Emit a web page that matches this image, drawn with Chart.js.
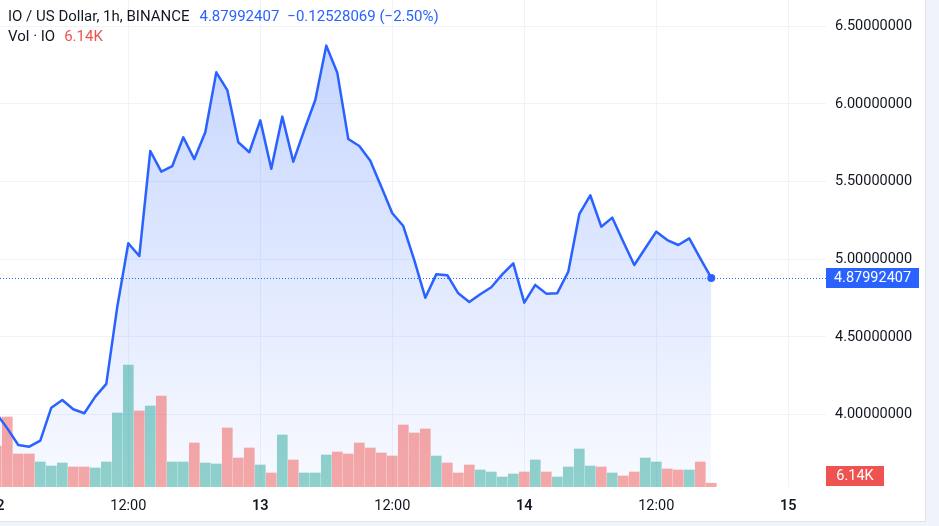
<!DOCTYPE html>
<html><head><meta charset="utf-8">
<script src="https://cdn.jsdelivr.net/npm/chart.js@4/dist/chart.umd.min.js"></script>
<style>html,body{margin:0;padding:0;background:#f0f3fa;}canvas{display:block}</style>
</head><body>
<canvas id="c" width="939" height="526"></canvas>
<script>
// hours since day 12 00:00 (1h candles)
const hours = [0,1,2,3,4,5,6,7,8,9,10,11,12,13,14,15,16,17,18,19,20,21,22,23,24,25,26,27,28,29,30,31,32,33,34,35,36,37,38,39,40,41,42,43,44,45,46,47,48,49,50,51,52,53,54,55,56,57,58,59,60,61,62,63,64,65];
const prices = [4.009,3.912,3.805,3.794,3.833,4.045,4.095,4.035,4.009,4.116,
  4.198,4.695,5.103,5.021,5.697,5.564,5.600,5.785,5.645,5.817,
  6.203,6.089,5.753,5.689,5.894,5.583,5.918,5.628,5.832,6.025,
  6.375,6.201,5.774,5.729,5.634,5.467,5.296,5.214,4.995,4.753,
  4.903,4.898,4.781,4.725,4.775,4.820,4.903,4.974,4.721,4.835,
  4.779,4.782,4.920,5.290,5.412,5.210,5.268,5.113,4.963,5.071,
  5.178,5.124,5.092,5.135,5.006,4.87992407];
// volume in thousands (K)
const volumes = [65.6,112,52.8,52.8,40,33.6,38.4,32,32,30.4,
  40,118.4,195.2,121.6,129.6,145.6,40,40,70.4,38.4,
  36.8,94.4,46.4,62.4,35.2,22.4,83.2,43.2,22.4,22.4,
  51.2,56,52.8,70.4,62.4,54.4,49.6,99.2,86.4,92.8,
  49.6,38.4,22.4,35.2,27.2,24,16,20.8,24,43.2,
  24,16,32,60.8,33.6,32,22.4,17.6,24,46.4,
  40,28.8,27.2,27.2,40,6.14];
const priceTicks = [4.0,4.5,5.0,5.5,6.0,6.5];
const timeTickHours = [0,12,24,36,48,60,72];
const timeTickLabels = ['12','12:00','13','12:00','14','12:00','15'];
const legendTitle = 'IO / US Dollar, 1h, BINANCE';
const lastPriceText = '4.87992407';
const changeText = '\u22120.12528069 (\u22122.50%)';
const volTitle = 'Vol \u00b7 IO';
const volText = '6.14K';

const FONT = "Roboto, 'Open Sans', sans-serif";
const FS = 15, AFS = 14.5;
const BLUE = '#2962FF', RED = '#ef5350', TEXT = '#131722';
const UP = 'rgba(38,166,154,0.5)', DOWN = 'rgba(239,83,80,0.5)';
const barColors = prices.map((p,i)=> i>0 && p>prices[i-1] ? UP : DOWN);

const bgPlugin = {
  id:'bg',
  beforeDraw(ch){
    const c = ch.ctx; c.save();
    c.fillStyle = '#f0f3fa'; c.fillRect(0,0,ch.width,ch.height);
    c.fillStyle = '#ffffff'; c.fillRect(0,0,925,521);
    c.strokeStyle = '#e0e3eb'; c.lineWidth = 1;
    c.beginPath(); c.moveTo(925.5,0); c.lineTo(925.5,521.5); c.lineTo(0,521.5); c.stroke();
    c.restore();
  }
};
const priceLinePlugin = {
  id:'priceLine',
  beforeDatasetsDraw(ch){
    const c = ch.ctx, a = ch.chartArea;
    const y = Math.round(ch.scales.y.getPixelForValue(prices[prices.length-1])) + 0.5;
    c.save(); c.strokeStyle = BLUE; c.lineWidth = 1; c.setLineDash([1,2]);
    c.beginPath(); c.moveTo(a.left,y); c.lineTo(a.right,y); c.stroke(); c.restore();
  }
};
const labelPlugin = {
  id:'labels',
  afterDraw(ch){
    const c = ch.ctx, a = ch.chartArea;
    c.save();
    c.textBaseline = 'middle';
    c.font = FS + 'px ' + FONT;
    let x = 8;
    c.fillStyle = TEXT; c.fillText(legendTitle, x, 17); x += c.measureText(legendTitle).width + 10;
    c.fillStyle = BLUE; c.fillText(lastPriceText, x, 17); x += c.measureText(lastPriceText).width + 8;
    c.fillText(changeText, x, 17);
    c.fillStyle = TEXT; c.fillText(volTitle, 8, 37);
    c.fillStyle = RED; c.fillText(volText, 8 + c.measureText(volTitle).width + 9, 37);
    // price label
    c.font = AFS + 'px ' + FONT;
    const py = ch.scales.y.getPixelForValue(prices[prices.length-1]);
    c.fillStyle = BLUE; c.fillRect(a.right, Math.round(py)-10, 93, 20);
    c.fillStyle = '#ffffff'; c.textAlign = 'center';
    c.fillText(lastPriceText, a.right + 46.5, Math.round(py)+0.5);
    // volume label
    const vy = Math.min(ch.scales.vol.getPixelForValue(volumes[volumes.length-1]), a.bottom - 11);
    c.fillStyle = RED; c.fillRect(a.right, Math.round(vy)-10, 58, 20);
    c.fillStyle = '#ffffff';
    c.fillText(volText, a.right + 29, Math.round(vy)+0.5);
    c.restore();
  }
};

const ctx = document.getElementById('c').getContext('2d');
new Chart(ctx, {
  data: {
    datasets: [
      {
        type:'line', label:'IO',
        data: hours.map((h,i)=>({x:h, y:prices[i]})),
        yAxisID:'y', xAxisID:'x',
        borderColor: BLUE, borderWidth: 2.5, tension: 0,
        borderJoinStyle:'round', borderCapStyle:'round',
        fill: 'start',
        backgroundColor: (c)=>{
          const ch = c.chart, a = ch.chartArea;
          if (!a) return 'rgba(41,98,255,0.1)';
          const top = ch.scales.y.getPixelForValue(Math.max(...prices));
          const g = ch.ctx.createLinearGradient(0, top, 0, a.bottom);
          g.addColorStop(0, 'rgba(41,98,255,0.26)');
          g.addColorStop(1, 'rgba(41,98,255,0.03)');
          return g;
        },
        pointRadius: (c)=> c.dataIndex === prices.length-1 ? 4 : 0,
        pointHoverRadius: 0,
        pointBackgroundColor: BLUE, pointBorderWidth: 0,
        order: 0
      },
      {
        type:'bar', label:'Vol',
        data: hours.map((h,i)=>({x:h, y:volumes[i]})),
        yAxisID:'vol', xAxisID:'x',
        backgroundColor: barColors,
        barThickness: 10,
        order: 1
      }
    ]
  },
  options: {
    responsive:false, animation:false, devicePixelRatio:1,
    layout:{padding:0, autoPadding:false},
    plugins:{ legend:{display:false}, tooltip:{enabled:false}, filler:{drawTime:'beforeDatasetsDraw'} },
    scales:{
      x:{
        type:'linear', position:'bottom', min:0.336, max:75.43, offset:false,
        afterBuildTicks: s => { s.ticks = timeTickHours.map(v=>({value:v})); },
        afterFit: s => { s.height = 39; s.paddingLeft = 0; s.paddingRight = 0; },
        grid:{ color:'#f0f3fa', drawTicks:false, lineWidth:1, offset:false },
        border:{ display:false },
        ticks:{
          autoSkip:false, maxRotation:0, minRotation:0, padding:11, color:TEXT,
          font: (c)=> ({family:FONT, size:AFS, weight: (c.tick && c.tick.value % 24 === 0) ? '600' : '400'}),
          callback: (v)=> timeTickLabels[timeTickHours.indexOf(v)]
        }
      },
      y:{
        type:'linear', position:'right', min:3.5347, max:6.6686,
        afterBuildTicks: s => { s.ticks = priceTicks.map(v=>({value:v})); },
        afterFit: s => { s.width = 113; s.paddingTop = 0; s.paddingBottom = 0; },
        grid:{ color:'#f0f3fa', drawTicks:false, lineWidth:1 },
        border:{ display:false },
        ticks:{ padding:9, color:TEXT, font:{family:FONT, size:AFS}, callback: v => Number(v).toFixed(8) }
      },
      vol:{ type:'linear', display:false, min:0, max:779.2 }
    }
  },
  plugins:[bgPlugin, priceLinePlugin, labelPlugin]
});
</script>
</body></html>
